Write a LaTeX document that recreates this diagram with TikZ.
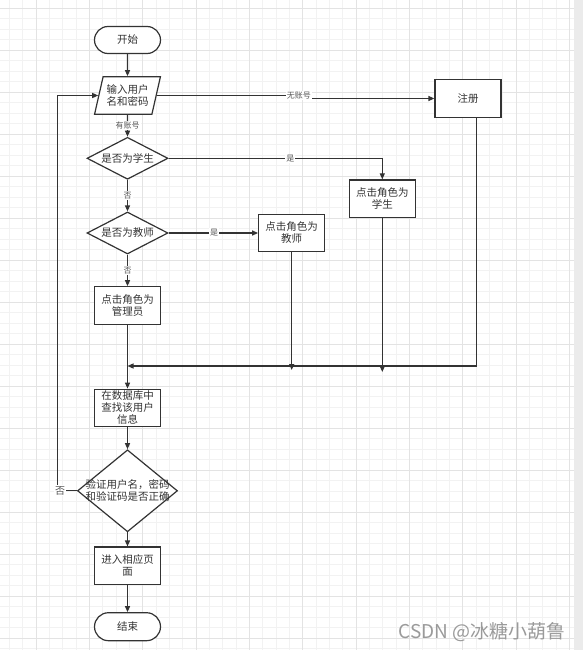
\documentclass[tikz,border=0pt]{standalone}
\usepackage{fontspec}
\setmainfont{Noto Sans CJK SC}
\usetikzlibrary{arrows.meta, positioning, calc, shapes.geometric}
\definecolor{sline}{HTML}{333333}
\definecolor{stext}{HTML}{333333}
\definecolor{slabel}{HTML}{555555}
\definecolor{gridminor}{HTML}{F2F2F2}
\definecolor{gridmajor}{HTML}{E3E3E3}
\definecolor{sbar}{HTML}{EBEBEB}
\definecolor{smark}{HTML}{9A9A9A}
\tikzset{
  >={Triangle[length=6pt,width=5pt]},
  box/.style={
    draw=sline, fill=white, line width=1.2pt, align=center, inner sep=1pt,
    minimum width=66pt, minimum height=37.5pt, text=stext,
    font=\fontsize{10.5}{12}\selectfont
  },
  term/.style={box, rounded corners=13.5pt, minimum height=27pt},
  io/.style={
    box, trapezium, trapezium left angle=72, trapezium right angle=108,
    trapezium stretches=true
  },
  dec/.style={box, diamond, shape aspect=2, inner sep=0pt, minimum width=81pt, minimum height=42pt},
  flow/.style={->, draw=sline, line width=1.2pt},
  elab/.style={fill=white, text=slabel, inner sep=1pt, font=\fontsize{8}{9}\selectfont}
}
\begin{document}
\begin{tikzpicture}[x=1pt, y=-1pt]
  \useasboundingbox (0,0) rectangle (583,650);
  \fill[white] (0,0) rectangle (583,650);
  \foreach \i in {0,...,42} {\draw[gridminor, line width=0.8pt] ({9.33+13.333*\i},0) -- ++(0,650);}
  \foreach \i in {0,...,62} {\draw[gridminor, line width=0.8pt] (0,{-2.5+10.5*\i}) -- (574,{-2.5+10.5*\i});}
  \foreach \i in {0,...,10} {\draw[gridmajor, line width=0.8pt] ({36+53.333*\i},0) -- ++(0,650);}
  \foreach \i in {0,...,15} {\draw[gridmajor, line width=0.8pt] (0,{8+42*\i}) -- (574,{8+42*\i});}
  \fill[sbar] (574,0) rectangle (583,650);

  \node[term] (start) at (127.5,40) {开始};
  \node[io] (input) at (127.5,95.5) {输入用户\\名和密码};
  \node[box] (register) at (468,98.5) {注册};
  \node[dec] (isstu) at (127.5,158.3) {是否为学生};
  \node[box] (student) at (382.3,198.7) {点击角色为\\学生};
  \node[dec] (istea) at (127.5,233) {是否为教师};
  \node[box] (teacher) at (291.7,233) {点击角色为\\教师};
  \node[box] (admin) at (127.5,305.5) {点击角色为\\管理员};
  \node[box] (query) at (127.5,408) {在数据库中\\查找该用户\\信息};
  \node[box, diamond, minimum width=100pt, minimum height=82pt,
    label={[align=center, text=stext, font=\fontsize{10.5}{12}\selectfont]center:验证用户名，密码\\和验证码是否正确}] (verify) at (127.5,490.8) {};
  \node[box] (enter) at (127.5,565.8) {进入相应页\\面};
  \node[term, minimum height=28pt, rounded corners=14pt] (finish) at (127.5,626.7) {结束};
  \coordinate (merge) at (127.5,366);

  \draw[flow] (start) -- (input);
  \draw[flow] (input) -- node[elab]{有账号} (isstu);
  \draw[flow] (input.east) -- ++(142,0) |- node[elab,pos=0]{无账号} (register.west);
  \draw[flow] (isstu.east) -| node[elab,pos=0.285]{是} (student.north);
  \draw[flow] (isstu) -- node[elab]{否} (istea);
  \draw[flow] (istea.east) -- node[elab,pos=0.51]{是} (teacher.west);
  \draw[flow] (istea) -- node[elab]{否} (admin);
  \draw[flow] (admin) -- (query);
  \draw[flow] ([xshift=8.7pt]register.south) |- (merge);
  \draw[flow, shorten >=-4pt] (teacher.south) -- (teacher.south |- merge);
  \draw[flow, shorten >=-6pt] (student.south) -- (student.south |- merge);
  \draw[flow] (query) -- (verify);
  \draw[flow] (verify.west) -- node[elab,pos=0.85,font=\fontsize{10}{11}\selectfont]{否} ++(-19.7,0) |- (input.west);
  \draw[flow] (verify) -- (enter);
  \draw[flow] (enter) -- (finish);

  \node[font=\fontsize{19}{22}\selectfont, text=smark, anchor=east] (mark) at (569,632) {CSDN @冰糖小葫鲁};
\end{tikzpicture}
\end{document}
